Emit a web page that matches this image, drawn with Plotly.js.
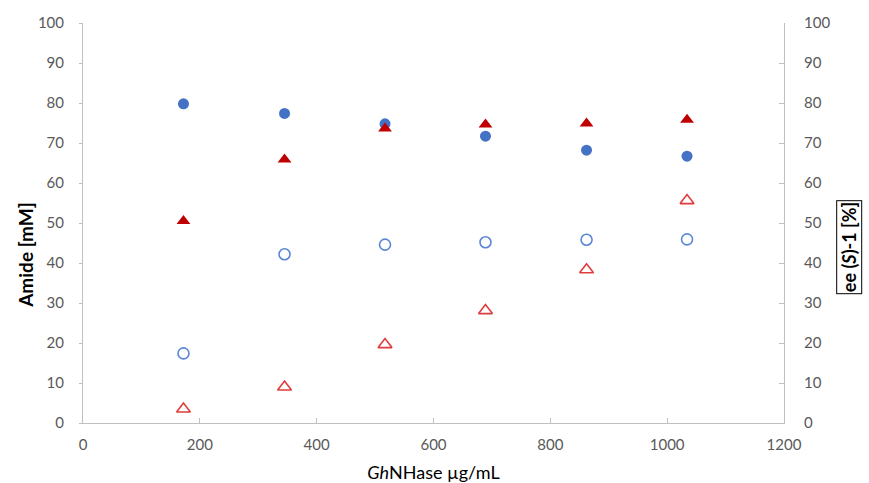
<!DOCTYPE html>
<html>
<head>
<meta charset="utf-8">
<script src="https://cdn.plot.ly/plotly-3.0.1.min.js"></script>
<style>html,body{margin:0;padding:0;background:#fff;}#chart{width:869px;height:483px;}</style>
</head>
<body>
<div id="chart"></div>
<script>
// GhNHase concentration (µg/mL)
const enzyme = [172, 345, 517, 689, 862, 1034];
// Amide [mM] (filled circles) and open circles (left axis)
const amideFilled = [79.8, 77.4, 74.8, 71.7, 68.2, 66.7];
const amideOpen = [17.4, 42.2, 44.6, 45.2, 45.8, 45.9];
// ee (S)-1 [%] (right axis): filled and open triangles
const eeFilled = [50.5, 65.9, 73.6, 74.6, 74.9, 75.8];
const eeOpen = [3.5, 9.0, 19.6, 28.1, 38.3, 55.6];

const xTicks = [0, 200, 400, 600, 800, 1000, 1200];
const yTicks = [0, 10, 20, 30, 40, 50, 60, 70, 80, 90, 100];

const FONT = 'Lato, "Open Sans", sans-serif';
const blue = '#4472C4';
const red = '#C00000';
const red2 = '#E03C3C';

const traces = [
  {x: enzyme, y: amideFilled, type: 'scatter', mode: 'markers', yaxis: 'y',
   marker: {symbol: 'circle', size: 11, color: blue, line: {width: 0}}},
  {x: enzyme, y: amideOpen, type: 'scatter', mode: 'markers', yaxis: 'y',
   marker: {symbol: 'circle-open', size: 11, color: '#5B86D6', line: {width: 1.6, color: '#5B86D6'}}},
  {x: enzyme, y: eeFilled, type: 'scatter', mode: 'markers', yaxis: 'y2',
   marker: {symbol: 'triangle-up', size: 12, color: red, line: {width: 0}}},
  {x: enzyme, y: eeOpen, type: 'scatter', mode: 'markers', yaxis: 'y2',
   marker: {symbol: 'triangle-up-open', size: 12, color: red2, line: {width: 1.6, color: red2}}}
];

const axisCommon = {
  showgrid: false, zeroline: false, showline: true, linecolor: '#BFBFBF', linewidth: 1,
  tickcolor: '#BFBFBF', tickwidth: 1,
  tickfont: {family: FONT, size: 15, color: '#595959'}
};

const layout = {
  width: 869, height: 483,
  margin: {l: 83, r: 85, t: 23, b: 60},
  paper_bgcolor: '#fff', plot_bgcolor: '#fff',
  showlegend: false,
  xaxis: Object.assign({}, axisCommon, {
    range: [0, 1200], tickvals: xTicks, ticktext: xTicks.map(String),
    ticks: 'inside', ticklen: 5, ticklabelstandoff: 8,
    title: {text: '<i>Gh</i>NHase µg/mL', font: {family: FONT, size: 18, color: '#000'}, standoff: 17}
  }),
  yaxis: Object.assign({}, axisCommon, {
    range: [0, 100], tickvals: yTicks, ticktext: yTicks.map(String),
    ticks: 'outside', ticklen: 3, ticklabelstandoff: 12
  }),
  yaxis2: Object.assign({}, axisCommon, {
    range: [0, 100], tickvals: yTicks, ticktext: yTicks.map(String),
    overlaying: 'y', side: 'right',
    ticks: 'inside', ticklen: 5, ticklabelstandoff: 16
  }),
  annotations: [
    {text: '<b>Amide [mM]</b>', xref: 'paper', yref: 'paper', x: -0.083, y: 0.42,
     xanchor: 'center', yanchor: 'middle', textangle: -90, showarrow: false,
     font: {family: FONT, size: 19, color: '#000'}},
    {text: '<b>ee (<i>S</i>)-1 [%]</b>', xref: 'paper', yref: 'paper', x: 1.093, y: 0.44,
     xanchor: 'center', yanchor: 'middle', textangle: -90, showarrow: false,
     bordercolor: '#000', borderwidth: 1, borderpad: 1, bgcolor: '#fff',
     font: {family: FONT, size: 18, color: '#000'}}
  ]
};

Plotly.newPlot('chart', traces, layout, {displayModeBar: false, staticPlot: true});
</script>
</body>
</html>
